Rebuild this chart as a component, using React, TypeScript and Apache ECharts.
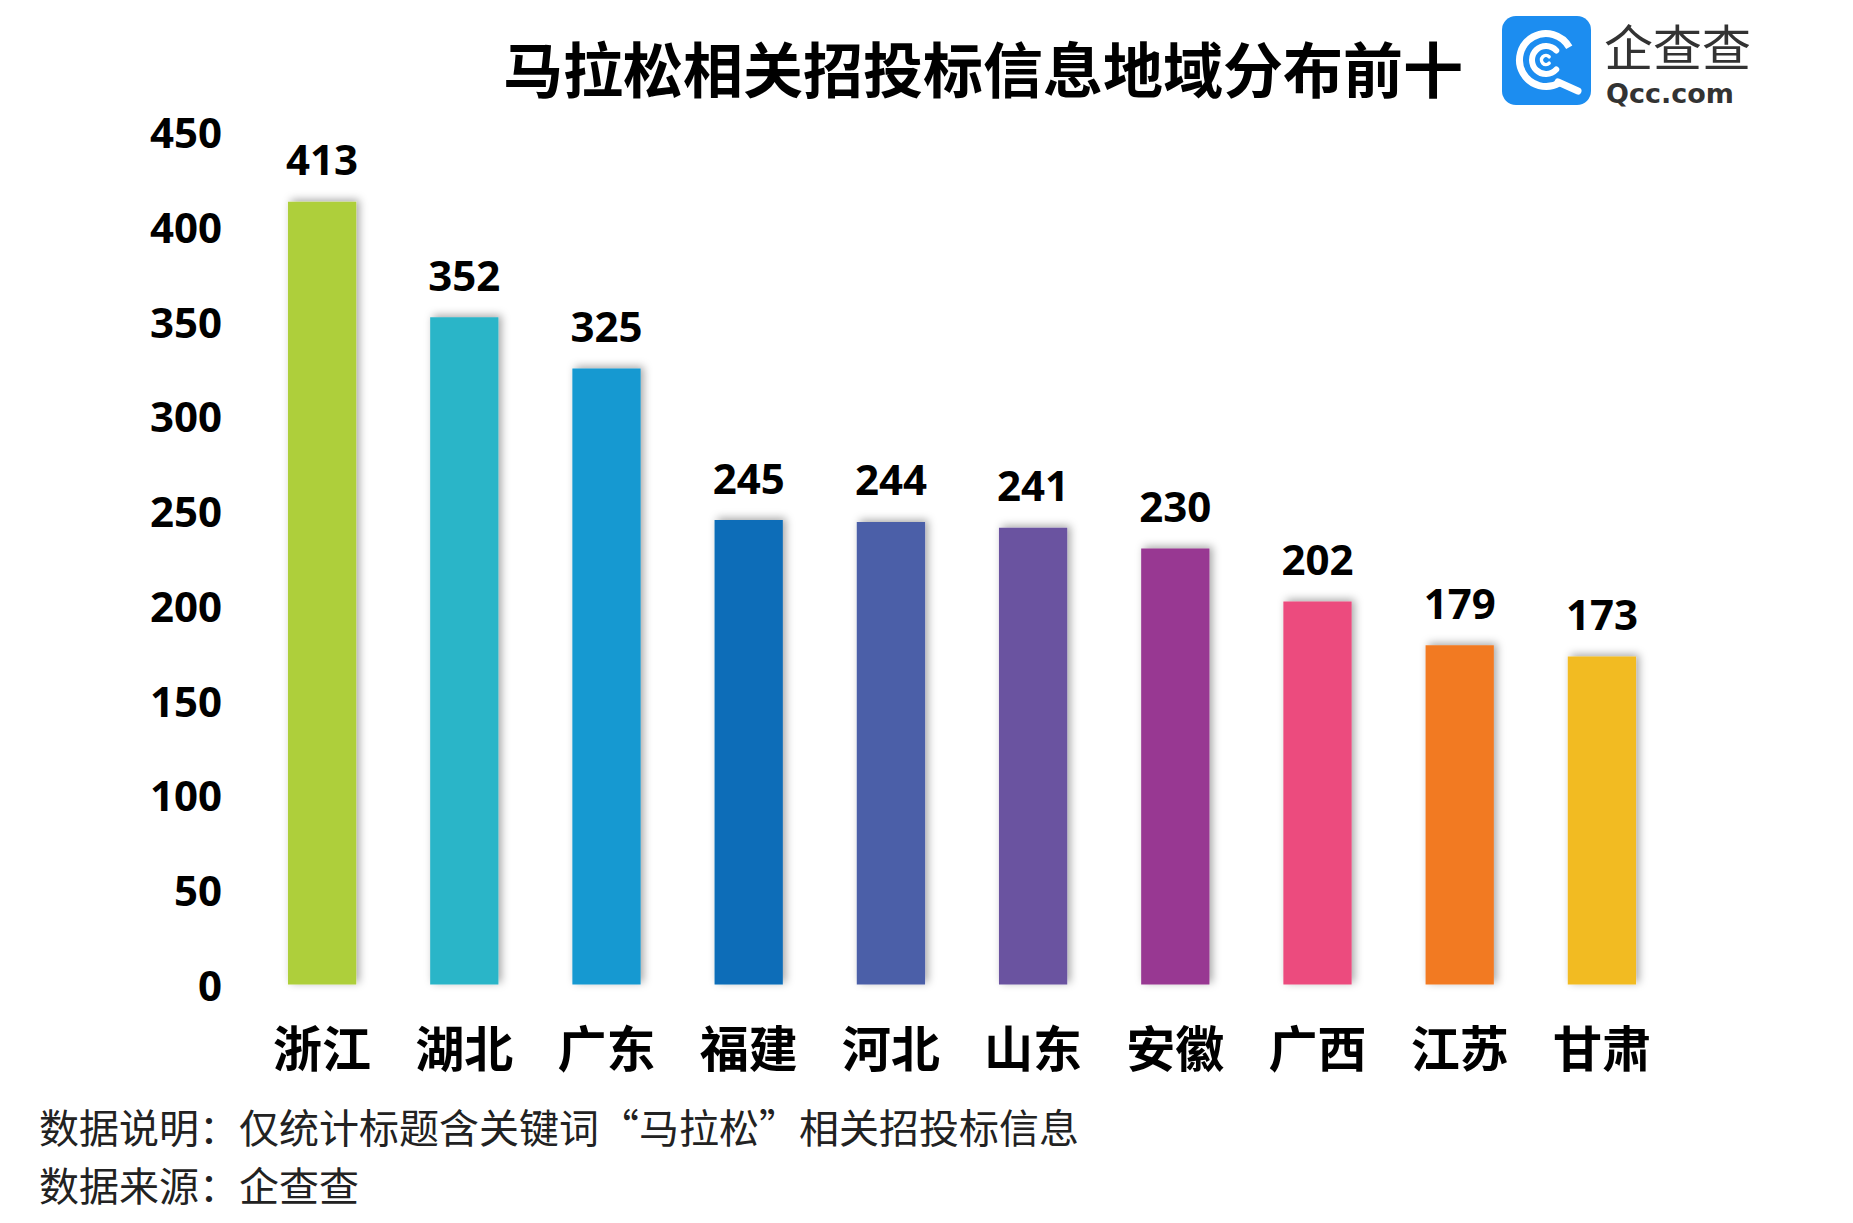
import React, { useEffect, useRef } from "react";
import * as echarts from "echarts";

const categories = ["浙江", "湖北", "广东", "福建", "河北", "山东", "安徽", "广西", "江苏", "甘肃"];
const values = [413, 352, 325, 245, 244, 241, 230, 202, 179, 173];
const barColors = ["#AECF3A", "#2BB5C8", "#1899D1", "#0B6DB8", "#4B5EA8", "#6A52A0", "#983792", "#EC4C7E", "#F27A23", "#F2BB22"];
const titleText = "马拉松相关招投标信息地域分布前十";
const noteLines = ["数据说明：仅统计标题含关键词“马拉松”相关招投标信息", "数据来源：企查查"];
const yMax = 450;
const yInterval = 50;

export default function App() {
  const ref = useRef<HTMLDivElement>(null);
  useEffect(() => {
    if (!ref.current) return;
    const chart = echarts.init(ref.current, null, { renderer: "svg" });
    const numFont = "'Open Sans', 'DejaVu Sans', sans-serif";
    const cjkFont = "'Noto Sans CJK SC', 'Noto Sans', sans-serif";
    chart.setOption({
      animation: false,
      backgroundColor: "#ffffff",
      grid: { left: 251, right: 180, top: 131.5, bottom: 238.5, containLabel: false },
      xAxis: {
        type: "category",
        data: categories,
        axisLine: { show: false },
        axisTick: { show: false },
        axisLabel: {
          margin: 36,
          color: "#000",
          fontSize: 49,
          fontWeight: "bold",
          fontFamily: cjkFont,
        },
      },
      yAxis: {
        type: "value",
        min: 0,
        max: yMax,
        interval: yInterval,
        splitLine: { show: false },
        axisLine: { show: false },
        axisTick: { show: false },
        axisLabel: {
          margin: 29,
          color: "#000",
          fontSize: 42,
          lineHeight: 42,
          fontWeight: "bold",
          fontFamily: numFont,
          padding: [0, 0, 10, 0],
        },
      },
      series: [
        {
          type: "bar",
          barWidth: "48%",
          data: values.map((v, i) => ({
            value: v,
            itemStyle: {
              color: barColors[i],
              shadowColor: "rgba(0,0,0,0.35)",
              shadowBlur: 8,
              shadowOffsetX: 3,
              shadowOffsetY: -2,
            },
          })),
          label: {
            show: true,
            position: "top",
            distance: 22,
            color: "#000",
            fontSize: 42,
            fontWeight: "bold",
            fontFamily: numFont,
          },
        },
      ],
      graphic: [
        {
          type: "text",
          left: 503,
          top: 36,
          style: {
            text: titleText,
            fill: "#000",
            font: "bold 60px 'Noto Sans CJK SC', sans-serif",
          },
        },
        {
          type: "group",
          children: [
            { type: "rect", shape: { x: 1502, y: 16, width: 89, height: 89, r: 14 }, style: { fill: "#1C8DF0" } },
            {
              type: "arc",
              shape: { cx: 1546, cy: 60, r: 26.5, startAngle: Math.PI / 3, endAngle: 2 * Math.PI - 0.5, clockwise: true },
              style: { stroke: "#fff", lineWidth: 7, fill: "none", lineCap: "butt" },
            },
            {
              type: "line",
              shape: { x1: 1558, y1: 82, x2: 1578, y2: 91 },
              style: { stroke: "#fff", lineWidth: 7, lineCap: "round" },
            },
            {
              type: "arc",
              shape: { cx: 1546, cy: 60, r: 14, startAngle: 0.75, endAngle: 2 * Math.PI - 0.75, clockwise: true },
              style: { stroke: "#fff", lineWidth: 6, fill: "none", lineCap: "round" },
            },
            {
              type: "arc",
              shape: { cx: 1546, cy: 60, r: 4.5, startAngle: 0.8, endAngle: 2 * Math.PI - 0.8, clockwise: true },
              style: { stroke: "#fff", lineWidth: 3.5, fill: "none", lineCap: "round" },
            },
          ],
        },
        {
          type: "text",
          left: 1604,
          top: 20,
          style: { text: "企查查", fill: "#333", font: "normal 49px 'Noto Sans CJK SC', sans-serif", lineHeight: 49 },
        },
        {
          type: "text",
          left: 1606,
          top: 80,
          style: { text: "Qcc.com", fill: "#333", font: "bold 27px 'DejaVu Sans', sans-serif", lineHeight: 27 },
        },
        {
          type: "text",
          left: 39,
          top: 1106,
          style: { text: noteLines[0], fill: "#222", font: "normal 40px 'Noto Sans CJK SC', sans-serif", lineHeight: 40 },
        },
        {
          type: "text",
          left: 39,
          top: 1164,
          style: { text: noteLines[1], fill: "#222", font: "normal 40px 'Noto Sans CJK SC', sans-serif", lineHeight: 40 },
        },
      ],
    });
    return () => chart.dispose();
  }, []);
  return <div ref={ref} style={{ position: "absolute", left: 0, top: 0, width: 1853, height: 1223 }} />;
}
